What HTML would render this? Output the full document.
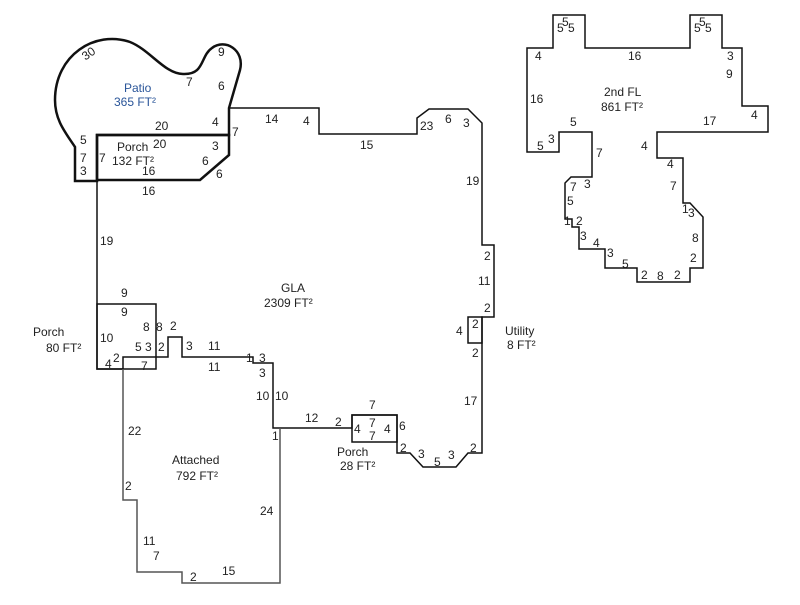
<!DOCTYPE html>
<html><head><style>body{margin:0;background:#fff}svg text{font-family:"Liberation Sans",Arial,sans-serif;font-size:12px;fill:#222}</style></head><body>
<svg width="800" height="600" viewBox="0 0 800 600" xmlns="http://www.w3.org/2000/svg">
<g fill="none" stroke="#111" stroke-width="1.5">
<!-- patio -->
<path d="M75,181 L97,181 L97,135 L229,135 L229,108 L240,70 C245,50 225,38 212,48 C200,56 205,75 183,74 C165,74 150,50 130,42 C95,30 55,55 55,100 C55,120 65,132 75,147 Z" stroke-width="2.5"/>
<!-- porch 132 -->
<path d="M97,135 L229,135 L229,155 L200,180 L97,180 Z" stroke-width="2.5"/>
<!-- GLA -->
<path d="M229,108 L319,108 L319,134 L417,134 L417,118 L429,109 L468,109 L482,123 L482,245 L494,245 L494,317 L482,317 L482,453 L468,453 L456,467 L423,467 L410,453 L397,453 L397,415 L352,415 L352,428 L273,428 L273,363 L253,363 L253,357 L182,357 L182,337 L168,337 L168,357 L123,357 L123,369 L97,369 L97,180"/>
<rect x="97" y="304" width="59" height="65"/>
<rect x="468" y="317" width="14" height="26"/>
<rect x="352" y="415" width="45" height="27"/>
<!-- attached -->
<path d="M123,369 L123,500 L137,500 L137,572 L182,572 L182,583 L280,583 L280,428" stroke="#555"/>
<!-- 2nd FL -->
<path d="M527,48 L553,48 L553,15 L585,15 L585,48 L690,48 L690,15 L722,15 L722,48 L742,48 L742,106 L768,106 L768,132 L657,132 L657,158 L683,158 L683,203 L690,203 L703,217 L703,268 L690,268 L690,282 L637,282 L637,268 L605,268 L605,249 L579,249 L579,227 L572,227 L572,219 L565,219 L565,183 L571,177 L592,177 L592,132 L559,132 L559,152 L527,152 Z"/>
</g>
<text x="124" y="92" style="fill:#2a5599">Patio</text>
<text x="114" y="106" style="fill:#2a5599">365 FT²</text>
<text x="82" y="58" transform="rotate(-35 88 54)">30</text>
<text x="218" y="56">9</text>
<text x="186" y="86">7</text>
<text x="218" y="90">6</text>
<text x="155" y="130">20</text>
<text x="212" y="126">4</text>
<text x="117" y="151">Porch</text>
<text x="112" y="165">132 FT²</text>
<text x="153" y="148">20</text>
<text x="142" y="175">16</text>
<text x="142" y="195">16</text>
<text x="212" y="150">3</text>
<text x="202" y="165">6</text>
<text x="216" y="178">6</text>
<text x="232" y="136">7</text>
<text x="80" y="144">5</text>
<text x="80" y="162">7</text>
<text x="80" y="175">3</text>
<text x="99" y="162">7</text>
<text x="265" y="123">14</text>
<text x="303" y="125">4</text>
<text x="360" y="149">15</text>
<text x="420" y="130">23</text>
<text x="445" y="123">6</text>
<text x="463" y="127">3</text>
<text x="466" y="185">19</text>
<text x="484" y="260">2</text>
<text x="478" y="285">11</text>
<text x="484" y="312">2</text>
<text x="456" y="335">4</text>
<text x="472" y="328">2</text>
<text x="472" y="357">2</text>
<text x="505" y="335">Utility</text>
<text x="507" y="349">8 FT²</text>
<text x="464" y="405">17</text>
<text x="470" y="452">2</text>
<text x="448" y="459">3</text>
<text x="434" y="466">5</text>
<text x="418" y="458">3</text>
<text x="400" y="452">2</text>
<text x="369" y="409">7</text>
<text x="369" y="427">7</text>
<text x="369" y="440">7</text>
<text x="354" y="433">4</text>
<text x="384" y="433">4</text>
<text x="335" y="426">2</text>
<text x="399" y="430">6</text>
<text x="337" y="456">Porch</text>
<text x="340" y="470">28 FT²</text>
<text x="305" y="422">12</text>
<text x="281" y="292">GLA</text>
<text x="264" y="307">2309 FT²</text>
<text x="100" y="245">19</text>
<text x="121" y="297">9</text>
<text x="121" y="316">9</text>
<text x="100" y="342">10</text>
<text x="143" y="331">8</text>
<text x="156" y="331">8</text>
<text x="170" y="330">2</text>
<text x="135" y="351">5</text>
<text x="145" y="351">3</text>
<text x="158" y="351">2</text>
<text x="186" y="350">3</text>
<text x="208" y="350">11</text>
<text x="208" y="371">11</text>
<text x="246" y="362">1</text>
<text x="259" y="362">3</text>
<text x="259" y="377">3</text>
<text x="256" y="400">10</text>
<text x="275" y="400">10</text>
<text x="272" y="440">1</text>
<text x="105" y="368">4</text>
<text x="113" y="362">2</text>
<text x="141" y="370">7</text>
<text x="33" y="336">Porch</text>
<text x="46" y="352">80 FT²</text>
<text x="128" y="435">22</text>
<text x="125" y="490">2</text>
<text x="172" y="464">Attached</text>
<text x="176" y="480">792 FT²</text>
<text x="260" y="515">24</text>
<text x="143" y="545">11</text>
<text x="153" y="560">7</text>
<text x="190" y="581">2</text>
<text x="222" y="575">15</text>
<text x="562" y="26">5</text>
<text x="557" y="32">5</text><text x="568" y="32">5</text>
<text x="699" y="26">5</text>
<text x="694" y="32">5</text><text x="705" y="32">5</text>
<text x="535" y="60">4</text>
<text x="628" y="60">16</text>
<text x="727" y="60">3</text>
<text x="726" y="78">9</text>
<text x="530" y="103">16</text>
<text x="604" y="96">2nd FL</text>
<text x="601" y="111">861 FT²</text>
<text x="751" y="119">4</text>
<text x="703" y="125">17</text>
<text x="570" y="126">5</text>
<text x="548" y="143">3</text>
<text x="537" y="150">5</text>
<text x="596" y="157">7</text>
<text x="641" y="150">4</text>
<text x="667" y="168">4</text>
<text x="670" y="190">7</text>
<text x="584" y="188">3</text>
<text x="570" y="191">7</text>
<text x="567" y="205">5</text>
<text x="564" y="225">1</text>
<text x="576" y="225">2</text>
<text x="580" y="240">3</text>
<text x="593" y="247">4</text>
<text x="607" y="257">3</text>
<text x="622" y="268">5</text>
<text x="641" y="279">2</text>
<text x="657" y="280">8</text>
<text x="674" y="279">2</text>
<text x="690" y="262">2</text>
<text x="692" y="242">8</text>
<text x="682" y="213">1</text>
<text x="688" y="217">3</text>
</svg>
</body></html>
